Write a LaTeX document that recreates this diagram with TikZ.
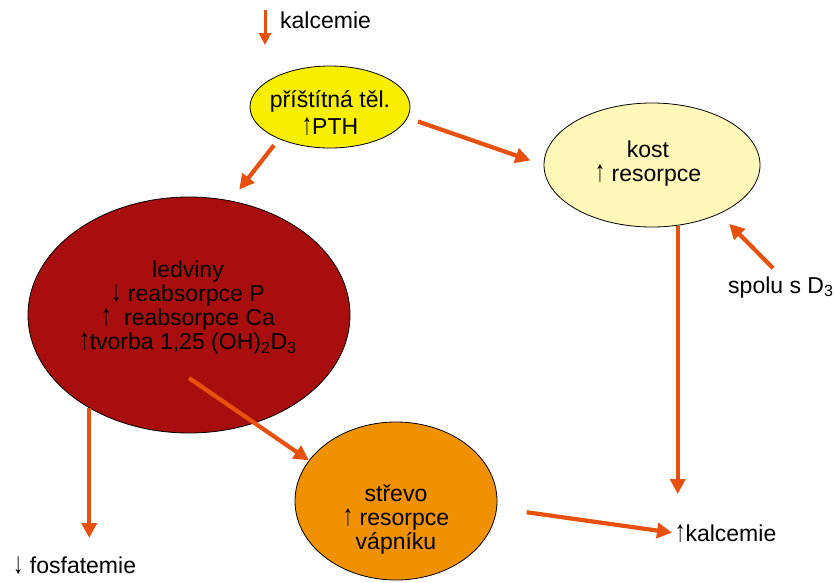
\documentclass[tikz,border=0pt]{standalone}
\usepackage{fontspec}
\setmainfont{Liberation Sans}
\usetikzlibrary{shapes.geometric,arrows.meta}
\definecolor{arrowc}{HTML}{E8500E}
\definecolor{pthc}{HTML}{F8EE00}
\definecolor{kostc}{HTML}{FFF8B8}
\definecolor{ledvc}{HTML}{A80E0E}
\definecolor{strevc}{HTML}{EF9100}
% tall, slim arrow glyphs for "rises" / "falls"
\newcommand\uparr{\scalebox{0.9}[1.3]{↑}}
\newcommand\downarr{\scalebox{0.9}[1.3]{↓}}
\begin{document}
\begin{tikzpicture}[x=1pt,y=1pt,
  blob/.style={ellipse, draw=black, line width=0.8pt, inner sep=0pt},
  lbl/.style={font=\fontsize{23}{24}\selectfont, align=center, inner sep=0pt},
  arr/.style={draw=arrowc, line width=4.2pt, -{Triangle[length=15pt,width=15pt]}},
  arrsmall/.style={draw=arrowc, line width=3pt, -{Triangle[length=12pt,width=12pt]}},
]
\useasboundingbox (0,0) rectangle (834,-582);

% organs
\node[blob, fill=pthc, minimum width=160pt, minimum height=82pt] (pth) at (330,-107) {};
\node[blob, fill=kostc, minimum width=216pt, minimum height=124pt] (kost) at (652,-165) {};
\node[blob, fill=ledvc, minimum width=322pt, minimum height=236pt] (ledviny) at (189,-315) {};
\node[blob, fill=strevc, minimum width=202pt, minimum height=158pt] (strevo) at (396,-501) {};

% organ labels
\node[lbl] (pthT) at (330,-113) {příštítná těl.\\[3pt]\uparr PTH};
\node[lbl] (kostT) at (648,-164) {kost\\\uparr\ resorpce};
\node[lbl] (ledvT) at (188,-308) {ledviny\\\downarr\ reabsorpce P\\\uparr\ \ reabsorpce Ca\\\uparr tvorba 1,25 (OH)\textsubscript{2}D\textsubscript{3}};
\node[lbl] (strevT) at (396,-520) {střevo\\\uparr\ resorpce\\vápníku};

% free labels
\node[lbl, anchor=base west] (topk) at (280,-28) {kalcemie};
\node[lbl, anchor=base west] (fos) at (13,-573) {\downarr\ fosfatemie};
\node[lbl, anchor=base west] (kal) at (675,-541) {\uparr kalcemie};
\node[lbl, anchor=base west] (spolu) at (728,-293) {spolu s D\textsubscript{3}};

% connectors
\coordinate (ta) at (265,-10);
\draw[arrsmall] (ta) -- ++(0,-35);
\draw[arr, shorten <=11pt, shorten >=14pt] (pth.-8) -- (kost.180);
\draw[arr, shorten <=8pt, shorten >=14pt] (pth.-148) -- (ledviny.70);
\draw[arr] ([yshift=-63pt]ledviny.center) -- (strevo.155);
\draw[arr, shorten >=18pt] (ledviny.223.5) -- (ledviny.223.5 |- fos.north);
\draw[arr, shorten >=30pt] (kost.-67.5) -- (kost.-67.5 |- kal.north);
\draw[arr, shorten <=30pt, shorten >=3pt] (strevo.-4.4) -- (kal.west);
\draw[arr, shorten <=11pt, shorten >=14pt] (spolu.north) -- (kost.-36);
\end{tikzpicture}
\end{document}
